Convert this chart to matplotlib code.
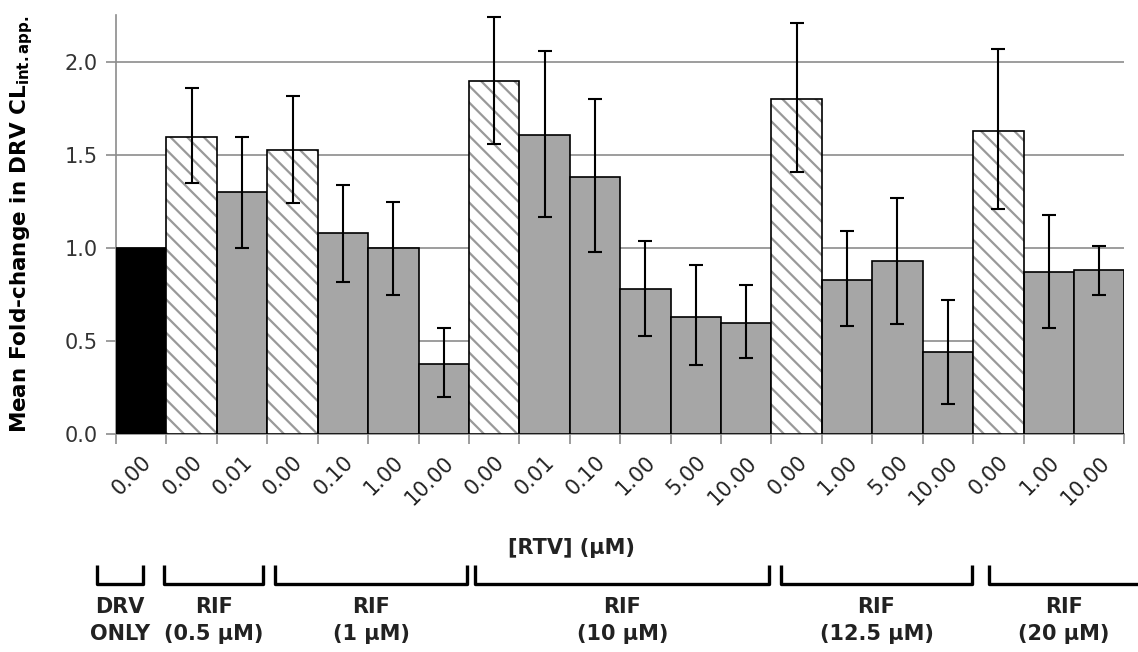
import matplotlib.pyplot as plt
from matplotlib.transforms import blended_transform_factory

# RTV concentration (uM) for each bar
rtv_labels = ['0.00', '0.00', '0.01', '0.00', '0.10', '1.00', '10.00',
              '0.00', '0.01', '0.10', '1.00', '5.00', '10.00',
              '0.00', '1.00', '5.00', '10.00', '0.00', '1.00', '10.00']
fold_change = [1.00, 1.60, 1.30, 1.53, 1.08, 1.00, 0.38,
               1.90, 1.61, 1.38, 0.78, 0.63, 0.60,
               1.80, 0.83, 0.93, 0.44, 1.63, 0.87, 0.88]
err_low = [1.00, 1.35, 1.00, 1.24, 0.82, 0.75, 0.20,
           1.56, 1.17, 0.98, 0.53, 0.37, 0.41,
           1.41, 0.58, 0.59, 0.16, 1.21, 0.57, 0.75]
err_high = [1.00, 1.86, 1.60, 1.82, 1.34, 1.25, 0.57,
            2.24, 2.06, 1.80, 1.04, 0.91, 0.80,
            2.21, 1.09, 1.27, 0.72, 2.07, 1.18, 1.01]
# bar kind: 'drv' = DRV only, 'rif' = RIF alone (hatched), 'combo' = RIF + RTV
bar_kind = ['drv', 'rif', 'combo', 'rif', 'combo', 'combo', 'combo',
            'rif', 'combo', 'combo', 'combo', 'combo', 'combo',
            'rif', 'combo', 'combo', 'combo', 'rif', 'combo', 'combo']
group_names = ['DRV\nONLY', 'RIF\n(0.5 µM)', 'RIF\n(1 µM)', 'RIF\n(10 µM)',
               'RIF\n(12.5 µM)', 'RIF\n(20 µM)']

# bracket extents under the axis (in bar-index units)
bracket_spans = [(-0.88, 0.04), (0.45, 2.42), (2.66, 6.46), (6.62, 12.46),
                 (12.69, 16.48), (16.82, 19.78)]

plt.rcParams['font.family'] = 'DejaVu Sans'
plt.rcParams['hatch.linewidth'] = 1.6

fig = plt.figure(figsize=(11.38, 6.52), dpi=100)
ax = fig.add_axes([0.102, 0.334, 0.886, 0.643])

x = list(range(len(fold_change)))
for i in x:
    kind = bar_kind[i]
    if kind == 'drv':
        ax.bar(i, fold_change[i], width=1.0, color='black', edgecolor='black',
               linewidth=1.2, zorder=3)
    elif kind == 'rif':
        ax.bar(i, fold_change[i], width=1.0, color='white', edgecolor='#999999',
               hatch='\\\\', linewidth=0, zorder=3)
        ax.bar(i, fold_change[i], width=1.0, fill=False, edgecolor='black',
               linewidth=1.2, zorder=4)
    else:
        ax.bar(i, fold_change[i], width=1.0, color='#a6a6a6', edgecolor='black',
               linewidth=1.2, zorder=3)

# error bars (skip the DRV only reference bar)
xe = [i for i in x if bar_kind[i] != 'drv']
ye = [fold_change[i] for i in xe]
lo = [fold_change[i] - err_low[i] for i in xe]
hi = [err_high[i] - fold_change[i] for i in xe]
ax.errorbar(xe, ye, yerr=[lo, hi], fmt='none', ecolor='black', elinewidth=1.5,
            capsize=5, capthick=1.5, zorder=5)

ax.set_xlim(-0.5, len(x) - 0.5)
ax.set_ylim(0, 2.253)
ax.set_yticks([0.0, 0.5, 1.0, 1.5, 2.0])
ax.set_yticklabels(['0.0', '0.5', '1.0', '1.5', '2.0'])
ax.yaxis.grid(True, color='#8c8c8c', linewidth=1.2, zorder=0)
ax.set_axisbelow(True)

for s in ['top', 'right']:
    ax.spines[s].set_visible(False)
ax.spines['left'].set_color('#8c8c8c')
ax.spines['left'].set_linewidth(1.2)
ax.spines['bottom'].set_color('#8c8c8c')
ax.spines['bottom'].set_linewidth(1.2)

# tick marks between bars, labels under each bar
ax.set_xticks([i - 0.5 for i in x] + [len(x) - 0.5])
ax.set_xticklabels([])
ax.tick_params(axis='x', which='major', length=7, color='#8c8c8c', width=1.2)
ax.set_xticks(x, minor=True)
ax.set_xticklabels(rtv_labels, minor=True, rotation=45, ha='right',
                   rotation_mode='anchor', fontsize=15, color='#222222')
ax.tick_params(axis='x', which='minor', length=0, pad=13)
ax.tick_params(axis='y', length=7, color='#8c8c8c', width=1.2, labelsize=15,
               labelcolor='#333333', pad=6)

ax.set_ylabel(r'Mean Fold-change in DRV CL$_{\mathbf{int.app.}}$',
              fontsize=15.5, fontweight='bold')
ax.yaxis.set_label_coords(-0.08, 0.5)

ax.text(0.452, -0.272, '[RTV] (µM)', transform=ax.transAxes, ha='center',
        va='center', fontsize=15, fontweight='bold', color='#222222')

tr = blended_transform_factory(ax.transData, ax.transAxes)
for k, (a, b) in enumerate(bracket_spans):
    if k == len(bracket_spans) - 1:
        xs, ys = [a, a, b], [-0.313, -0.357, -0.357]
    else:
        xs, ys = [a, a, b, b], [-0.313, -0.357, -0.357, -0.313]
    ax.plot(xs, ys, transform=tr, color='black', linewidth=2.4,
            clip_on=False, solid_capstyle='butt')
    ax.text((a + b) / 2, -0.388, group_names[k], transform=tr, ha='center',
            va='top', fontsize=15, fontweight='bold', color='#222222',
            linespacing=1.45)

fig.savefig('out.png', dpi=100)
